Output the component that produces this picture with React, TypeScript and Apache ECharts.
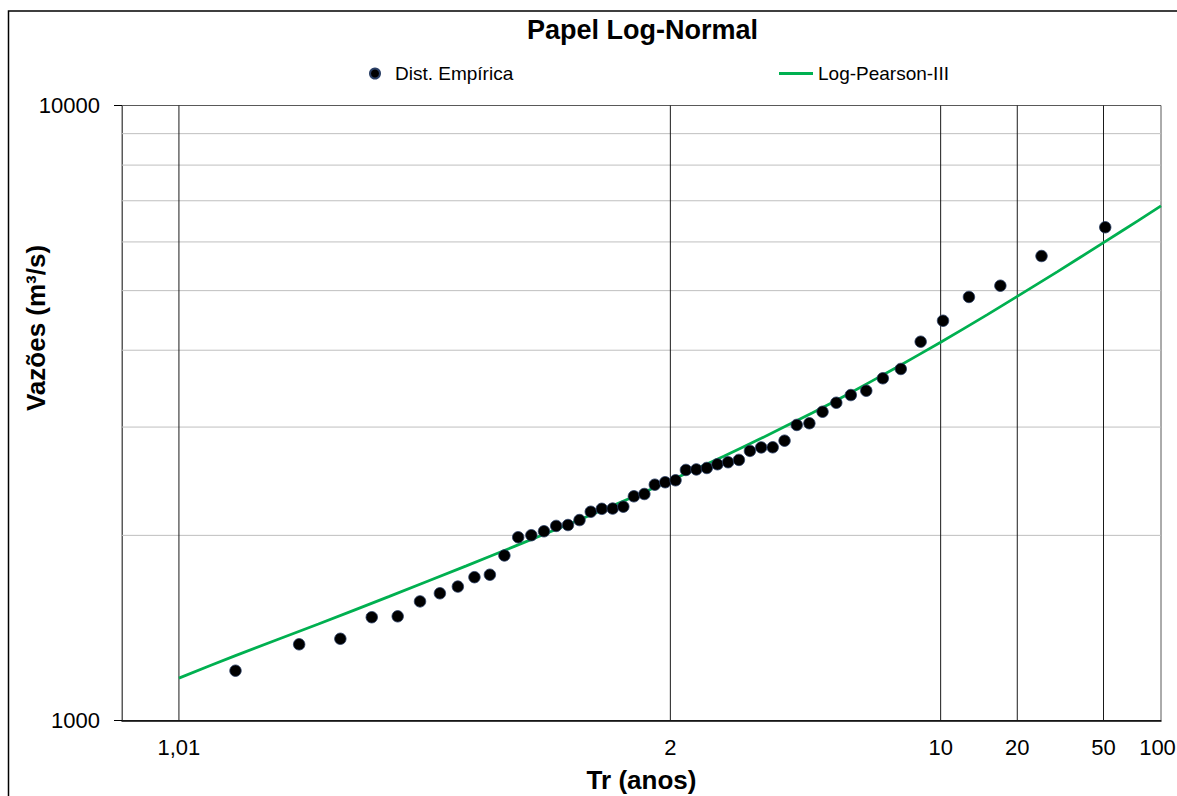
import React, { useEffect, useRef } from 'react';
import * as echarts from 'echarts';

const FONT = '"Liberation Sans", Arial, Helvetica, sans-serif';

// Empirical distribution: return periods (Weibull plotting positions) and flows (m³/s)
const empiricalTr = [
  1.02, 1.0408, 1.0625, 1.0851, 1.1087, 1.1333, 1.1591, 1.186, 1.2143, 1.2439,
  1.275, 1.3077, 1.3421, 1.3784, 1.4167, 1.4571, 1.5, 1.5455, 1.5938, 1.6452,
  1.7, 1.7586, 1.8214, 1.8889, 1.9615, 2.04, 2.125, 2.2174, 2.3182, 2.4286,
  2.55, 2.6842, 2.8333, 3.0, 3.1875, 3.4, 3.6429, 3.9231, 4.25, 4.6364,
  5.1, 5.6667, 6.375, 7.2857, 8.5, 10.2, 12.75, 17.0, 25.5, 51.0,
];
const empiricalQ = [
  1205, 1330, 1358, 1472, 1477, 1562, 1610, 1651, 1710, 1726,
  1855, 1986, 2001, 2031, 2072, 2079, 2118, 2185, 2209, 2211,
  2227, 2315, 2335, 2418, 2440, 2458, 2555, 2560, 2574, 2610,
  2630, 2653, 2744, 2780, 2781, 2851, 3024, 3043, 3177, 3286,
  3382, 3437, 3601, 3729, 4130, 4467, 4883, 5093, 5692, 6339,
];

// Log-Pearson III fitted curve
const curveTr = [1.01, 1.02, 1.05, 1.1, 1.2, 1.3, 1.5, 1.75, 2, 2.5, 3, 4, 5, 7, 10, 15, 20, 30, 50, 75, 100];
const curveQ = [1172, 1275, 1435, 1590, 1784, 1921, 2121, 2307, 2456, 2689, 2876, 3166, 3393, 3743, 4122, 4567, 4894, 5365, 5984, 6493, 6868];

// Axis ticks / grid
const xTickTr = [1.01, 2, 10, 20, 50, 100];
const xTickLabels = ['1,01', '2', '10', '20', '50', '100'];
const xGridTr = [1.01, 2, 10, 20, 50];
const yMinorGrid = [2000, 3000, 4000, 5000, 6000, 7000, 8000, 9000];
const yMin = 1000;
const yMax = 10000;
const xMinZ = -2.6;
const xMaxTr = 100;

// inverse standard normal CDF (Acklam) — probability-paper axis transform
function invNorm(p: number): number {
  const a = [-3.969683028665376e1, 2.209460984245205e2, -2.759285104469687e2, 1.38357751867269e2, -3.066479806614716e1, 2.506628277459239];
  const b = [-5.447609879822406e1, 1.615858368580409e2, -1.556989798598866e2, 6.680131188771972e1, -1.328068155288572e1];
  const c = [-7.784894002430293e-3, -3.223964580411365e-1, -2.400758277161838, -2.549671688631539, 4.374664141464968, 2.938163982698783];
  const d = [7.784695709041462e-3, 3.224671290700398e-1, 2.445134137142996, 3.754408661907416];
  const pl = 0.02425;
  const ph = 1 - pl;
  if (p < pl) {
    const q = Math.sqrt(-2 * Math.log(p));
    return (((((c[0] * q + c[1]) * q + c[2]) * q + c[3]) * q + c[4]) * q + c[5]) / ((((d[0] * q + d[1]) * q + d[2]) * q + d[3]) * q + 1);
  }
  if (p <= ph) {
    const q = p - 0.5;
    const r = q * q;
    return ((((((a[0] * r + a[1]) * r + a[2]) * r + a[3]) * r + a[4]) * r + a[5]) * q) / (((((b[0] * r + b[1]) * r + b[2]) * r + b[3]) * r + b[4]) * r + 1);
  }
  const q = Math.sqrt(-2 * Math.log(1 - p));
  return -(((((c[0] * q + c[1]) * q + c[2]) * q + c[3]) * q + c[4]) * q + c[5]) / ((((d[0] * q + d[1]) * q + d[2]) * q + d[3]) * q + 1);
}
const trToZ = (tr: number) => invNorm(1 - 1 / tr);

export default function App() {
  const ref = useRef<HTMLDivElement>(null);

  useEffect(() => {
    if (!ref.current) return;
    const chart = echarts.init(ref.current, undefined, { renderer: 'svg' });
    const xMaxZ = trToZ(xMaxTr);
    const tickZ = xTickTr.map(trToZ);

    const hGrid = yMinorGrid.map((q) => ({
      type: 'line',
      data: [[xMinZ, q], [xMaxZ, q]],
      symbol: 'none',
      silent: true,
      z: 1,
      lineStyle: { color: '#bfbfbf', width: 1 },
      tooltip: { show: false },
    }));
    const vGrid = xGridTr.map((t) => ({
      type: 'line',
      data: [[trToZ(t), yMin], [trToZ(t), yMax]],
      symbol: 'none',
      silent: true,
      z: 1,
      lineStyle: { color: '#1a1a1a', width: 1 },
      tooltip: { show: false },
    }));

    chart.setOption({
      animation: false,
      textStyle: { fontFamily: FONT },
      title: {
        text: 'Papel Log-Normal',
        left: 527,
        top: 16.5,
        padding: 0,
        textStyle: { fontSize: 27, fontWeight: 'bold', color: '#000', fontFamily: FONT },
      },
      legend: [
        {
          data: ['Dist. Empírica'],
          left: 369,
          top: 64,
          padding: 0,
          itemWidth: 30,
          itemHeight: 10,
          selectedMode: false,
          textStyle: { fontSize: 19, color: '#000', fontFamily: FONT },
        },
        {
          data: [{ name: 'Log-Pearson-III', icon: 'rect' }],
          left: 779,
          top: 64,
          padding: 0,
          itemWidth: 34,
          itemHeight: 3,
          selectedMode: false,
          textStyle: { fontSize: 19, color: '#000', fontFamily: FONT },
        },
      ],
      grid: {
        left: 122,
        right: 16,
        top: 105.5,
        bottom: 75.5,
        show: true,
        borderColor: '#595959',
        borderWidth: 1,
        backgroundColor: 'transparent',
        containLabel: false,
        outerBoundsMode: 'none',
      },
      xAxis: {
        type: 'value',
        min: xMinZ,
        max: xMaxZ,
        name: 'Tr (anos)',
        nameLocation: 'middle',
        nameGap: 46,
        nameTextStyle: { fontSize: 26, fontWeight: 'bold', color: '#000', fontFamily: FONT },
        axisLine: { show: true, onZero: false, lineStyle: { color: '#000', width: 1.5 } },
        axisTick: { show: false },
        splitLine: { show: false },
        axisLabel: {
          customValues: tickZ,
          fontSize: 22,
          color: '#000',
          margin: 16,
          fontFamily: FONT,
          rich: {
            edge: { fontSize: 22, color: '#000', fontFamily: FONT, padding: [0, 7, 0, 0] },
          },
          formatter: (v: number) => {
            let best = 0;
            tickZ.forEach((z, i) => {
              if (Math.abs(z - v) < Math.abs(tickZ[best] - v)) best = i;
            });
            return best === tickZ.length - 1 ? `{edge|${xTickLabels[best]}}` : xTickLabels[best];
          },
        },
      },
      yAxis: {
        type: 'log',
        logBase: 10,
        min: yMin,
        max: yMax,
        axisLine: { show: true, onZero: false, lineStyle: { color: '#595959', width: 1 } },
        axisTick: { show: true, inside: false, length: 8, lineStyle: { color: '#000', width: 1 } },
        splitLine: { show: true, lineStyle: { color: '#595959', width: 1.2 } },
        axisLabel: {
          fontSize: 22,
          color: '#000',
          margin: 22,
          fontFamily: FONT,
          formatter: (v: number) => String(Math.round(v)),
        },
      },
      graphic: [
        {
          type: 'rect',
          silent: true,
          z: -10,
          shape: { x: 8.5, y: 11, width: 1300, height: 900 },
          style: { fill: 'none', stroke: '#000', lineWidth: 1.5 },
        },
        {
          type: 'text',
          x: 36,
          y: 328,
          rotation: Math.PI / 2,
          silent: true,
          style: {
            text: 'Vazões (m³/s)',
            fontSize: 26,
            fontWeight: 'bold',
            fontFamily: FONT,
            fill: '#000',
            align: 'center',
            verticalAlign: 'middle',
            textAlign: 'center',
            textVerticalAlign: 'middle',
          },
        },
      ],
      series: [
        ...hGrid,
        ...vGrid,
        {
          name: 'Log-Pearson-III',
          type: 'line',
          data: curveTr.map((t, i) => [trToZ(t), curveQ[i]]),
          symbol: 'none',
          showSymbol: false,
          smooth: 0.3,
          z: 3,
          lineStyle: { color: '#00b050', width: 2.75 },
          itemStyle: { color: '#00b050' },
        },
        {
          name: 'Dist. Empírica',
          type: 'scatter',
          data: empiricalTr.map((t, i) => [trToZ(t), empiricalQ[i]]),
          symbol: 'circle',
          symbolSize: 11.5,
          z: 4,
          itemStyle: { color: '#000', opacity: 1, borderColor: '#2a3f66', borderWidth: 0.8 },
        },
      ],
    });

    return () => chart.dispose();
  }, []);

  return (
    <div
      ref={ref}
      style={{ position: 'fixed', left: 0, top: 0, width: 1177, height: 796, background: '#fff' }}
    />
  );
}
